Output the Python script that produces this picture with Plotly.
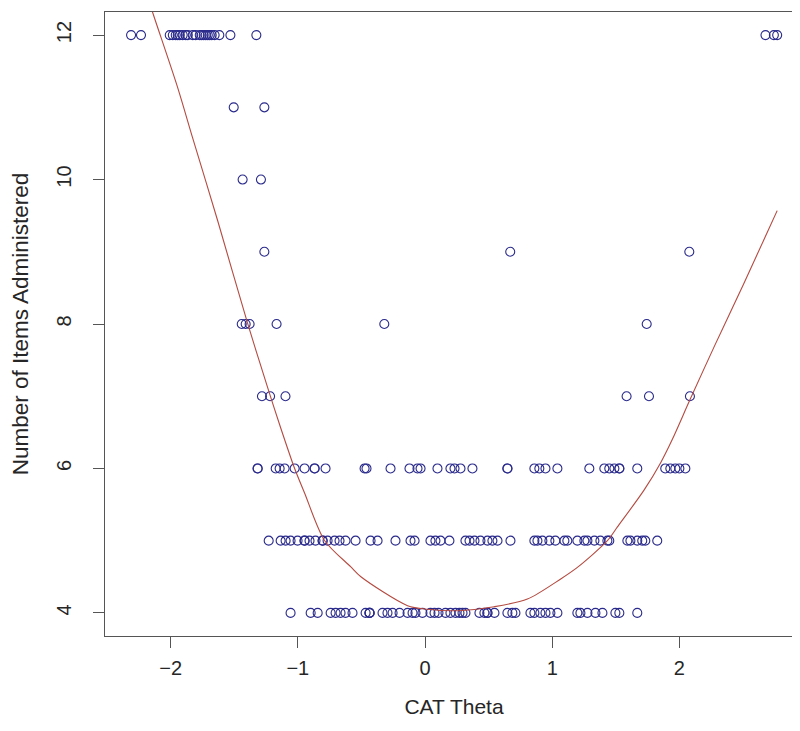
import plotly.graph_objects as go

# CAT theta values for each number of items administered
theta_items_12 = [-2.311, -2.233, -2.007, -1.983, -1.960, -1.944, -1.928, -1.905, -1.881,
                  -1.865, -1.826, -1.803, -1.771, -1.756, -1.740, -1.724, -1.708, -1.693,
                  -1.677, -1.654, -1.617, -1.530, -1.326, 2.677, 2.743, 2.769]
theta_items_11 = [-1.504, -1.263]
theta_items_10 = [-1.434, -1.290]
theta_items_9 = [-1.263, 0.67, 2.078]
theta_items_8 = [-1.441, -1.410, -1.379, -1.167, -0.32, 1.743]
theta_items_7 = [-1.282, -1.218, -1.097, 1.585, 1.761, 2.083]
theta_items_6 = [-1.316, -1.316, -1.174, -1.143, -1.104, -1.025, -0.947, -0.868, -0.868,
                 -0.782, -0.475, -0.460, -0.271, -0.122, -0.059, -0.035, 0.098, 0.200,
                 0.232, 0.279, 0.373, 0.648, 0.648, 0.860, 0.899, 0.947, 1.041, 1.292,
                 1.410, 1.449, 1.489, 1.528, 1.528, 1.669, 1.889, 1.929, 1.968, 2.000, 2.047]
theta_items_5 = [-1.229, -1.135, -1.096, -1.057, -1.002, -0.947, -0.947, -0.908, -0.861,
                 -0.805, -0.805, -0.766, -0.711, -0.672, -0.625, -0.546, -0.428, -0.373,
                 -0.232, -0.114, -0.082, 0.043, 0.082, 0.122, 0.192, 0.318, 0.350, 0.389,
                 0.436, 0.491, 0.530, 0.570, 0.672, 0.860, 0.884, 0.923, 0.978, 1.025,
                 1.096, 1.119, 1.198, 1.253, 1.277, 1.332, 1.379, 1.434, 1.449, 1.591,
                 1.615, 1.669, 1.708, 1.732, 1.826]
theta_items_4 = [-1.057, -0.899, -0.844, -0.742, -0.703, -0.664, -0.625, -0.570, -0.467,
                 -0.436, -0.436, -0.436, -0.334, -0.295, -0.255, -0.200, -0.137, -0.098,
                 -0.075, -0.020, 0.043, 0.075, 0.106, 0.161, 0.200, 0.240, 0.271, 0.295,
                 0.318, 0.428, 0.467, 0.491, 0.491, 0.546, 0.648, 0.687, 0.711, 0.829,
                 0.860, 0.907, 0.947, 0.986, 1.041, 1.198, 1.222, 1.277, 1.340, 1.395,
                 1.497, 1.528, 1.669]

# Smoothed trend curve
curve_theta = [-2.313, -2.127, -1.944, -1.827, -1.630, -1.394, -1.237, -1.135, -1.025,
               -0.947, -0.790, -0.585, -0.504, -0.137, 0.020, 0.255, 0.544, 0.805, 1.067,
               1.198, 1.434, 1.513, 1.722, 1.853, 1.944, 2.083, 2.272, 2.507, 2.769]
curve_items = [13.22, 12.237, 11.27, 10.577, 9.43, 8.004, 7.119, 6.564, 5.999, 5.66,
               5.003, 4.64, 4.50, 4.10, 4.05, 4.030, 4.086, 4.191, 4.47, 4.63,
               5.0, 5.19, 5.70, 6.08, 6.40, 6.95, 7.68, 8.56, 9.57]

x_tick_vals = [-2, -1, 0, 1, 2]
y_tick_vals = [4, 6, 8, 10, 12]

rows = {12: theta_items_12, 11: theta_items_11, 10: theta_items_10, 9: theta_items_9,
        8: theta_items_8, 7: theta_items_7, 6: theta_items_6, 5: theta_items_5,
        4: theta_items_4}
xs, ys = [], []
for n, th in rows.items():
    xs += th
    ys += [n] * len(th)

font_family = "Liberation Sans, Arial, sans-serif"
text_color = "#262626"

fig = go.Figure()
fig.add_trace(go.Scatter(
    x=xs, y=ys, mode="markers",
    marker=dict(symbol="circle-open", size=9, color="#2a2a8c", line=dict(width=1.1)),
    showlegend=False, hoverinfo="x+y"))
fig.add_trace(go.Scatter(
    x=curve_theta, y=curve_items, mode="lines",
    line=dict(color="#b44a40", width=1.1, shape="spline", smoothing=0.8),
    showlegend=False, hoverinfo="skip"))

axis_common = dict(showgrid=False, zeroline=False, showline=True, mirror=True,
                   linecolor="#555555", linewidth=1, ticks="outside", ticklen=11,
                   tickwidth=1, tickcolor="#555555")

fig.update_layout(
    width=800, height=731,
    margin=dict(l=97, r=5, t=4, b=103, autoexpand=False),
    paper_bgcolor="white", plot_bgcolor="white",
    xaxis=dict(range=[-2.516, 2.972], tickvals=x_tick_vals, ticklabelstandoff=3,
               tickfont=dict(family=font_family, size=20, color=text_color),
               title=dict(text="CAT Theta", standoff=21,
                          font=dict(family=font_family, size=21, color=text_color)),
               **axis_common),
    yaxis=dict(range=[3.68, 12.32], tickvals=y_tick_vals, tickangle=-90, ticklabelstandoff=14,
               tickfont=dict(family=font_family, size=20, color=text_color),
               title=dict(text="Number of Items Administered", standoff=18,
                          font=dict(family=font_family, size=22.5, color=text_color)),
               **axis_common),
)

fig.write_html("out.html")
